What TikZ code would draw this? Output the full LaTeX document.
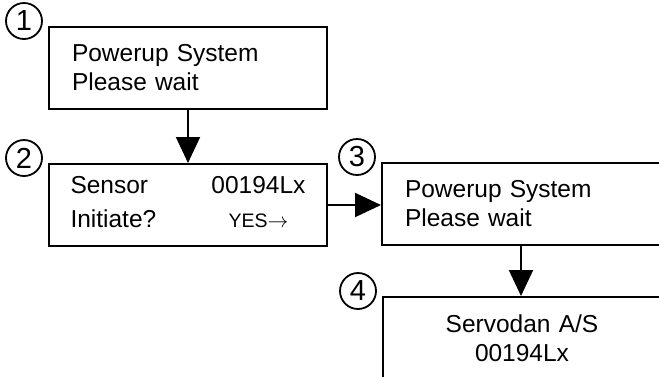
\documentclass[tikz,border=0pt]{standalone}
\usepackage{fontspec}
\setmainfont{Liberation Sans}
\usepackage{tikz}
\usetikzlibrary{arrows.meta,positioning}

\begin{document}
\begin{tikzpicture}[x=1pt,y=-1pt,
  lcd/.style={draw,line width=2pt,minimum width=278pt,minimum height=82pt,inner sep=0pt,text width=232pt,align=left,font=\fontsize{24.5}{29}\selectfont},
  num/.style={circle,draw,line width=1.8pt,minimum size=36pt,inner sep=0pt,font=\fontsize{29}{29}\selectfont},
  ar/.style={-{Triangle[length=26pt,width=24pt]},line width=2pt}]
\useasboundingbox (0,0) rectangle (659,376);
\clip (0,0) rectangle (659,376);
% display screens
\node[lcd] (b1) at (188,68) {Powerup System\\Please wait};
\node[lcd,text width=235pt] (b2) at (188,205) {%
  \begin{tabular*}{235pt}{@{}l@{\extracolsep{\fill}}c@{}}
  Sensor & 00194Lx\\[5pt]
  Initiate? & {\fontsize{19.5}{22}\selectfont YES$\rightarrow$}
  \end{tabular*}};
\node[lcd] (b3) at (521,204) {Powerup System\\Please wait};
\node[lcd,align=center] (b4) at (522,338) {Servodan A/S\\00194Lx};
% step numbers
\node[num,xshift=-24pt,yshift=5pt] (n1) at (b1.north west) {1};
\node[num,xshift=-24pt,yshift=5pt] (n2) at (b2.north west) {2};
\node[num,xshift=-24pt,yshift=5pt] (n3) at (b3.north west) {3};
\node[num,xshift=-24pt,yshift=5pt] (n4) at (b4.north west) {4};
% flow
\draw[ar] (b1) -- (b2);
\draw[ar] (b2) -- (b2 -| b3.west);
\draw[ar] (b3.south) -- (b3.south |- b4.north);
\end{tikzpicture}
\end{document}
